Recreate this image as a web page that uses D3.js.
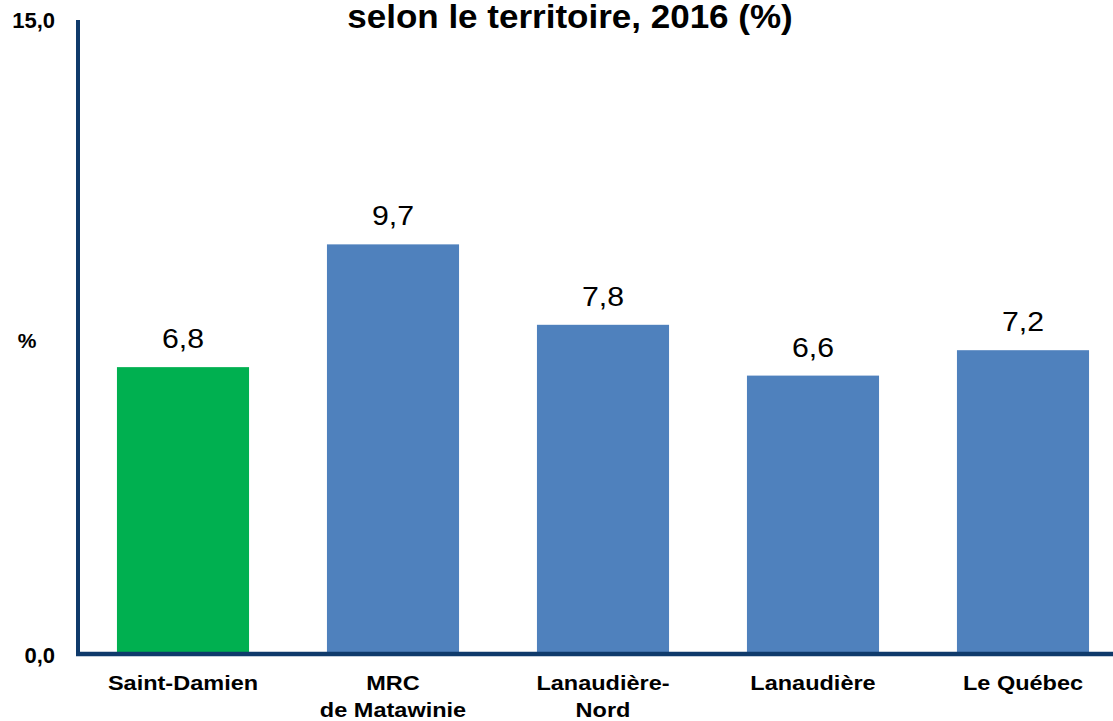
<!DOCTYPE html>
<html>
<head>
<meta charset="utf-8">
<script src="https://cdn.jsdelivr.net/npm/d3@7"></script>
<style>
    body { margin: 0; background: #fff; font-family: "Liberation Sans", Arial, sans-serif; }
    svg { display: block; }
</style>
</head>
<body>
<div id="container"><svg></svg></div>
<script>
let width = 1113;
let height = 721;

// données
let categories = ['Saint-Damien', 'MRC\nde Matawinie', 'Lanaudière-\nNord', 'Lanaudière', 'Le Québec'];
let values = [6.8, 9.7, 7.8, 6.6, 7.2];
let highlight = ['Saint-Damien'];
let y_ticks = [0, 15];
let title = 'selon le territoire, 2016 (%)';

function fmt(v) {
    return v.toFixed(1).replace('.', ',');
}

// text is a bit wider than Arial in the original, so stretch horizontally
function stretched(sel, x, y, sx) {
    return sel.attr('transform', `translate(${x},${y}) scale(${sx},1)`);
}

function draw_bar() {
    let svg = d3.select('#container').select('svg')
        .attr('width', width)
        .attr('height', height);

    let x = d3.scaleBand()
        .domain(categories)
        .range([78, 1128])
        .paddingInner(0.371)
        .paddingOuter(0.1855);
    let y = d3.scaleLinear()
        .domain([0, 15])
        .range([655, 20]);

    // title
    stretched(svg.append('text'), 570, 28, 1.03)
        .attr('text-anchor', 'middle')
        .style('font-size', '34px')
        .style('font-weight', 'bold')
        .text(title);

    // bars
    svg.selectAll('.bar')
        .data(values)
        .enter()
        .append('rect')
        .attr('class', 'bar')
        .attr('x', (d, i) => x(categories[i]))
        .attr('width', x.bandwidth())
        .attr('y', d => y(d))
        .attr('height', d => y(0) - y(d))
        .attr('fill', (d, i) => highlight.indexOf(categories[i]) != -1 ? '#00B050' : '#4F81BD');

    // value labels
    svg.selectAll('.val')
        .data(values)
        .enter()
        .append('text')
        .attr('class', 'val')
        .attr('transform', (d, i) => `translate(${x(categories[i]) + x.bandwidth() / 2},${y(d) - 19}) scale(1.08,1)`)
        .attr('text-anchor', 'middle')
        .style('font-size', '28px')
        .text(d => fmt(d));

    // axes
    let axisColor = '#0F3A6B';
    svg.append('line')
        .attr('x1', 78).attr('x2', 78)
        .attr('y1', 20).attr('y2', 656)
        .attr('stroke', axisColor)
        .attr('stroke-width', 4);
    svg.append('line')
        .attr('x1', 76).attr('x2', width)
        .attr('y1', 654).attr('y2', 654)
        .attr('stroke', axisColor)
        .attr('stroke-width', 4.5);

    // y tick labels
    svg.selectAll('.ytick')
        .data(y_ticks)
        .enter()
        .append('text')
        .attr('class', 'ytick')
        .attr('x', 55)
        .attr('y', d => y(d) + 8)
        .attr('text-anchor', 'end')
        .style('font-size', '22px')
        .style('font-weight', 'bold')
        .text(d => fmt(d));

    svg.append('text')
        .attr('x', 27)
        .attr('y', 348)
        .attr('text-anchor', 'middle')
        .style('font-size', '21px')
        .style('font-weight', 'bold')
        .text('%');

    // category labels
    let cat = svg.selectAll('.cat')
        .data(categories)
        .enter()
        .append('text')
        .attr('class', 'cat')
        .attr('transform', d => `translate(${x(d) + x.bandwidth() / 2},690) scale(1.12,1)`)
        .attr('text-anchor', 'middle')
        .style('font-size', '21px')
        .style('font-weight', 'bold');
    cat.each(function(d) {
        let lines = d.split('\n');
        let t = d3.select(this);
        lines.forEach((l, j) => {
            t.append('tspan')
                .attr('x', 0)
                .attr('y', j * 27)
                .text(l);
        });
    });
}

draw_bar();
</script>
</body>
</html>
